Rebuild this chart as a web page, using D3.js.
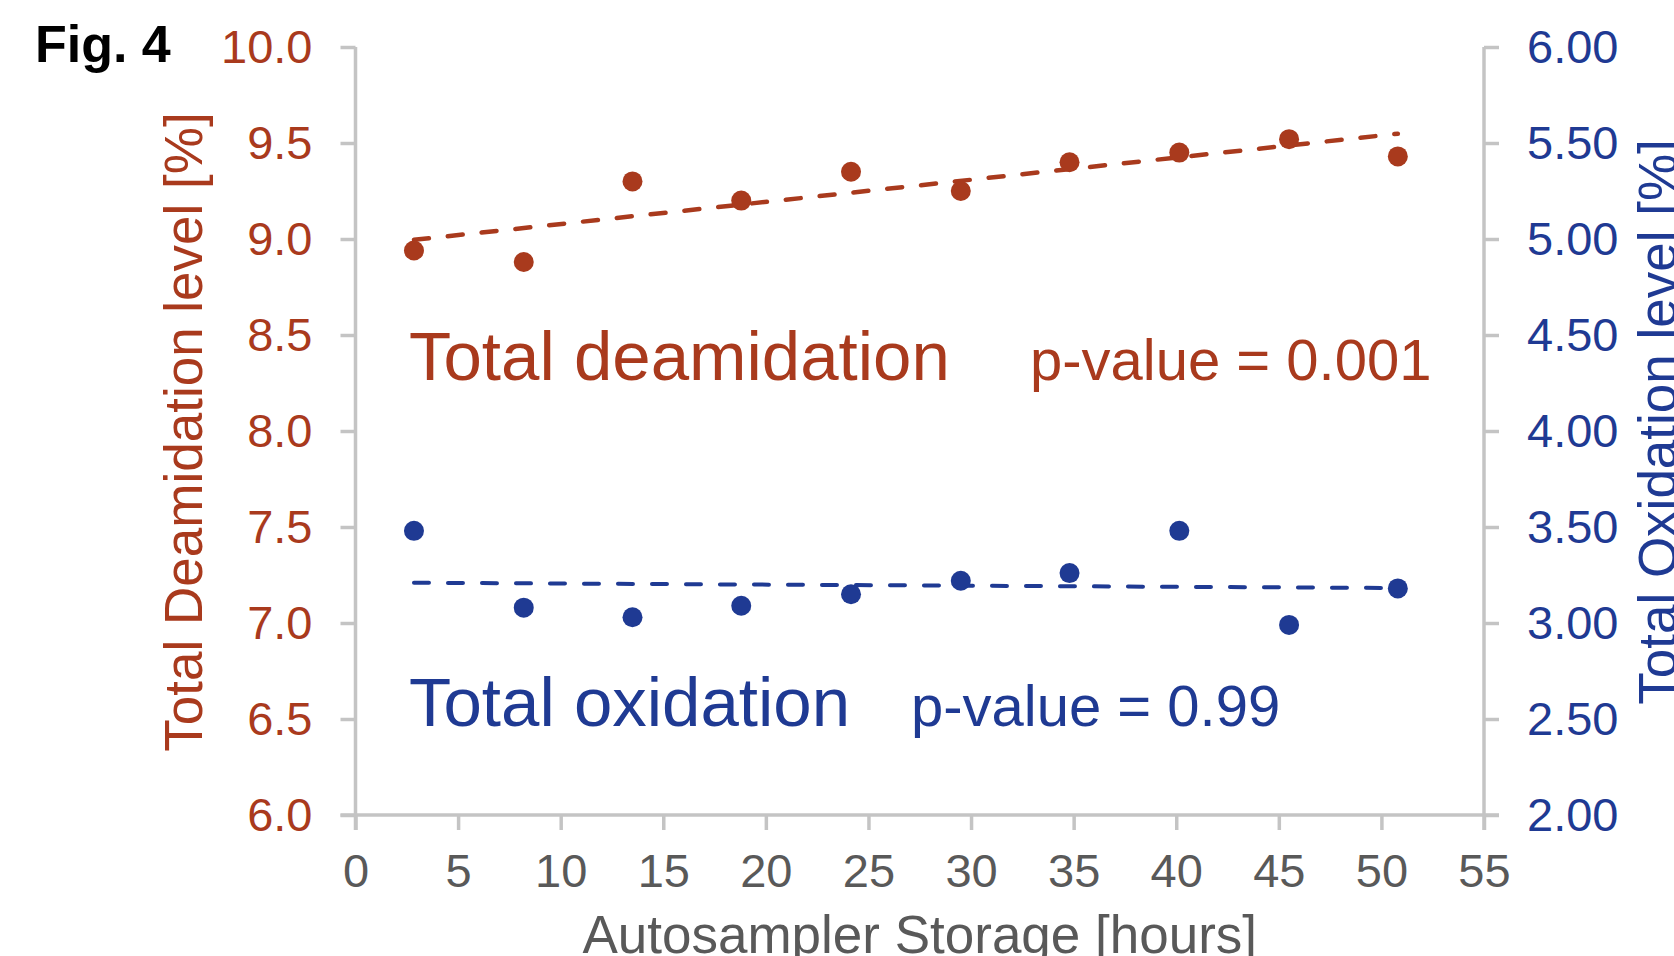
<!DOCTYPE html>
<html>
<head>
<meta charset="utf-8">
<script src="https://cdn.jsdelivr.net/npm/d3@7"></script>
<style>
  body { margin: 0; background: #fff; }
  svg { display: block; font-family: "Liberation Sans", Arial, sans-serif; }
</style>
</head>
<body>
<svg id="chart" width="1674" height="956"></svg>
<script>
// data
var hours = [2.85, 8.2, 13.5, 18.8, 24.15, 29.5, 34.8, 40.15, 45.5, 50.8];
var deamidation = [8.94, 8.88, 9.30, 9.20, 9.35, 9.25, 9.40, 9.45, 9.52, 9.43];
var oxidation = [3.48, 3.08, 3.03, 3.09, 3.15, 3.22, 3.26, 3.48, 2.99, 3.18];
var xTicks = [0, 5, 10, 15, 20, 25, 30, 35, 40, 45, 50, 55];
var leftTicks = [6.0, 6.5, 7.0, 7.5, 8.0, 8.5, 9.0, 9.5, 10.0];
var rightTicks = [2.0, 2.5, 3.0, 3.5, 4.0, 4.5, 5.0, 5.5, 6.0];

var red = '#A93A1D';
var blue = '#1F3A93';
var grey = '#595959';
var axisGrey = '#C4C4C4';

var svg = d3.select('#chart');

// plot box (note: "top" is taken by window.top)
var plotLeft = 355.5, plotRight = 1484, plotTop = 47, plotBottom = 815;

var x = d3.scaleLinear().domain([0, 55]).range([plotLeft, plotRight]);
var yL = d3.scaleLinear().domain([6, 10]).range([plotBottom, plotTop]);
var yR = d3.scaleLinear().domain([2, 6]).range([plotBottom, plotTop]);

// axes
function styleAxis(g, color) {
  g.select('.domain').remove();
  g.selectAll('.tick line').attr('stroke', axisGrey).attr('stroke-width', 3.5);
  g.selectAll('.tick text').attr('fill', color).style('font-size', '47px');
}

var gx = svg.append('g')
  .attr('transform', 'translate(0,' + plotBottom + ')')
  .call(d3.axisBottom(x).tickValues(xTicks).tickSize(15).tickPadding(24).tickFormat(d3.format('d')));
styleAxis(gx, grey);
gx.selectAll('.tick text').attr('dy', '0.71em');

var gl = svg.append('g')
  .attr('transform', 'translate(' + plotLeft + ',0)')
  .call(d3.axisLeft(yL).tickValues(leftTicks).tickSize(15).tickPadding(28).tickFormat(d3.format('.1f')));
styleAxis(gl, red);

var gr = svg.append('g')
  .attr('transform', 'translate(' + plotRight + ',0)')
  .call(d3.axisRight(yR).tickValues(rightTicks).tickSize(15).tickPadding(28).tickFormat(d3.format('.2f')));
styleAxis(gr, blue);

// axis lines
svg.append('line').attr('x1', plotLeft - 15).attr('x2', plotRight + 15).attr('y1', plotBottom).attr('y2', plotBottom)
  .attr('stroke', axisGrey).attr('stroke-width', 3.5);
svg.append('line').attr('x1', plotLeft).attr('x2', plotLeft).attr('y1', plotTop).attr('y2', plotBottom + 15)
  .attr('stroke', axisGrey).attr('stroke-width', 3.5);
svg.append('line').attr('x1', plotRight).attr('x2', plotRight).attr('y1', plotTop).attr('y2', plotBottom + 15)
  .attr('stroke', axisGrey).attr('stroke-width', 3.5);

// least squares trend line through a series
function trend(xs, ys) {
  var mx = d3.mean(xs), my = d3.mean(ys);
  var sxy = d3.sum(xs, function(v, i) { return (v - mx) * (ys[i] - my); });
  var sxx = d3.sum(xs, function(v) { return (v - mx) * (v - mx); });
  var b = sxy / sxx, a = my - b * mx;
  var x0 = d3.min(xs), x1 = d3.max(xs);
  return [[x0, a + b * x0], [x1, a + b * x1]];
}

function addSeries(ys, yScale, color, lw) {
  var line = d3.line()
    .x(function(d) { return x(d[0]); })
    .y(function(d) { return yScale(d[1]); });
  svg.append('path')
    .attr('d', line(trend(hours, ys)))
    .attr('fill', 'none')
    .attr('stroke', color)
    .attr('stroke-width', lw)
    .attr('stroke-linecap', 'round')
    .attr('stroke-dasharray', '15,19');
  svg.append('g').selectAll('circle')
    .data(ys)
    .enter()
    .append('circle')
    .attr('cx', function(d, i) { return x(hours[i]); })
    .attr('cy', function(d) { return yScale(d); })
    .attr('r', 10)
    .attr('fill', color);
}

addSeries(deamidation, yL, red, 4.5);
addSeries(oxidation, yR, blue, 4);

// titles
svg.append('text').attr('x', 35).attr('y', 62)
  .style('font-size', '52px').style('font-weight', 'bold').attr('fill', '#000')
  .text('Fig. 4');

svg.append('text')
  .attr('transform', 'translate(202,432) rotate(-90)')
  .attr('text-anchor', 'middle')
  .style('font-size', '53px').attr('fill', red)
  .text('Total Deamidation level [%]');

svg.append('text')
  .attr('transform', 'translate(1676,422) rotate(-90)')
  .attr('text-anchor', 'middle')
  .style('font-size', '53px').attr('fill', blue)
  .text('Total Oxidation level [%]');

svg.append('text')
  .attr('x', (plotLeft + plotRight) / 2).attr('y', 953)
  .attr('text-anchor', 'middle')
  .style('font-size', '53px').attr('fill', grey)
  .text('Autosampler Storage [hours]');

// annotations
svg.append('text').attr('x', 409).attr('y', 380)
  .style('font-size', '69px').attr('fill', red).text('Total deamidation');
svg.append('text').attr('x', 1030).attr('y', 380)
  .style('font-size', '58px').attr('fill', red).text('p-value = 0.001');
svg.append('text').attr('x', 409).attr('y', 726)
  .style('font-size', '69px').attr('fill', blue).text('Total oxidation');
svg.append('text').attr('x', 911).attr('y', 726)
  .style('font-size', '58px').attr('fill', blue).text('p-value = 0.99');
</script>
</body>
</html>
